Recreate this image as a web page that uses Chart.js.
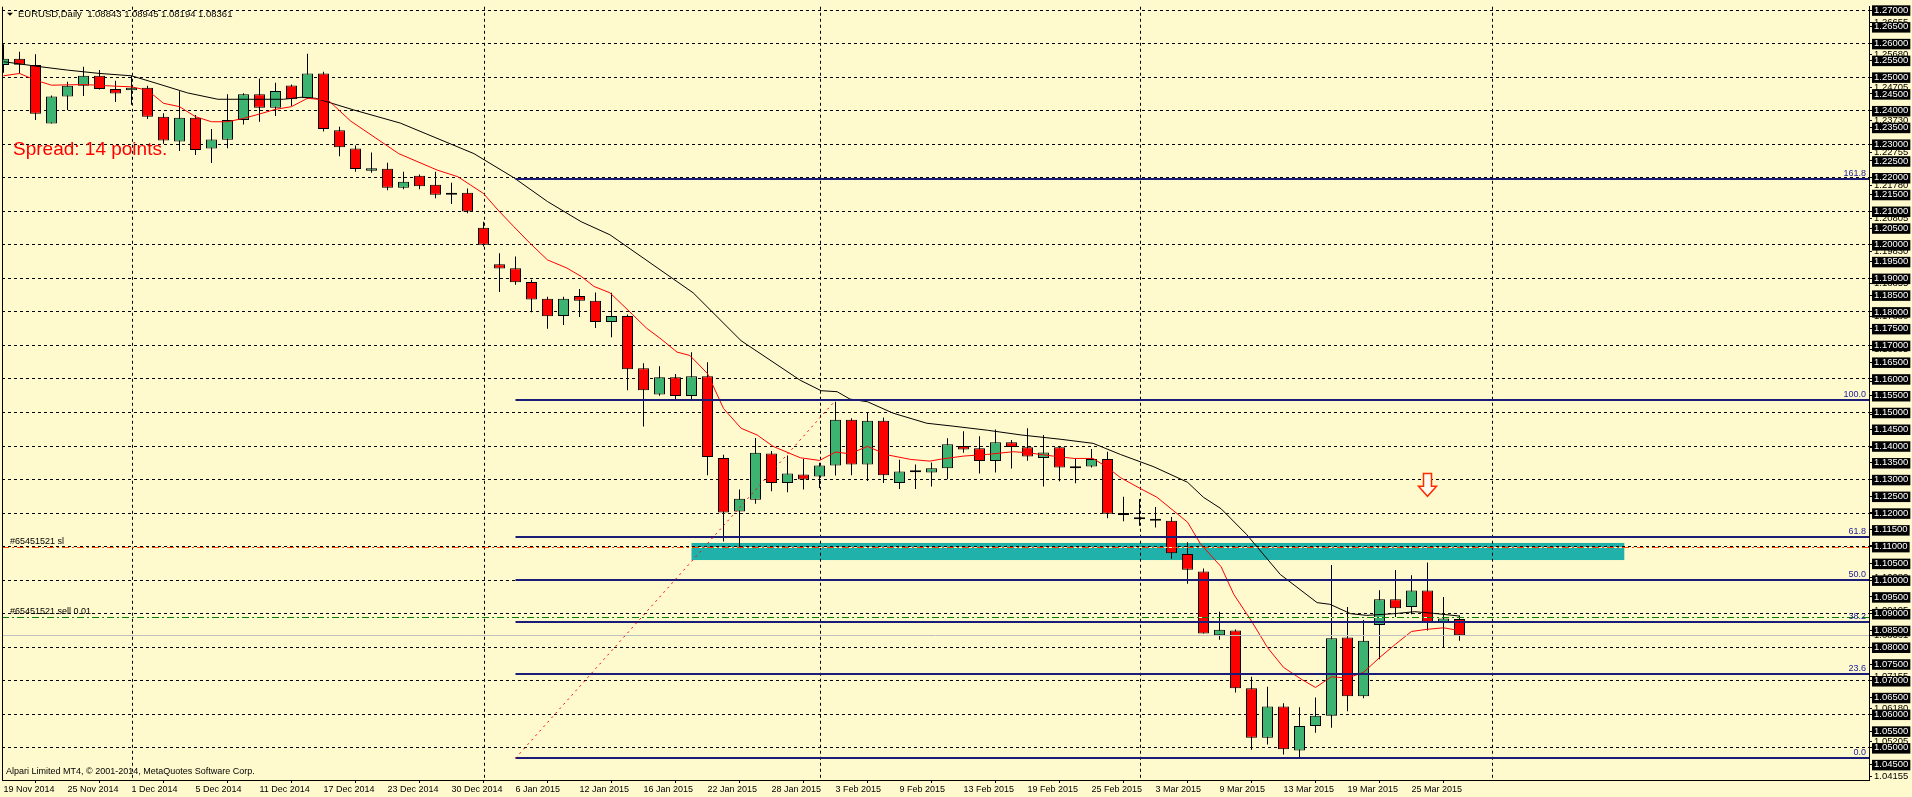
<!DOCTYPE html>
<html>
<head>
<meta charset="utf-8">
<title>EURUSD,Daily</title>
<script src="https://cdn.jsdelivr.net/npm/chart.js@4.4.1/dist/chart.umd.min.js"></script>
<style>
  html, body { margin: 0; padding: 0; background: #fffacd; overflow: hidden; }
</style>
</head>
<body>
<canvas id="chart" width="1912" height="797"></canvas>
<script>
// --- bar dates (one per daily candle) ---
const dates = ['19 Nov 2014','20 Nov 2014','21 Nov 2014','24 Nov 2014','25 Nov 2014','26 Nov 2014','27 Nov 2014','28 Nov 2014',
  '1 Dec 2014','2 Dec 2014','3 Dec 2014','4 Dec 2014','5 Dec 2014','8 Dec 2014','9 Dec 2014','10 Dec 2014','11 Dec 2014','12 Dec 2014',
  '15 Dec 2014','16 Dec 2014','17 Dec 2014','18 Dec 2014','19 Dec 2014','22 Dec 2014','23 Dec 2014','24 Dec 2014','26 Dec 2014',
  '29 Dec 2014','30 Dec 2014','31 Dec 2014','2 Jan 2015','5 Jan 2015','6 Jan 2015','7 Jan 2015','8 Jan 2015','9 Jan 2015',
  '12 Jan 2015','13 Jan 2015','14 Jan 2015','15 Jan 2015','16 Jan 2015','19 Jan 2015','20 Jan 2015','21 Jan 2015','22 Jan 2015',
  '23 Jan 2015','26 Jan 2015','27 Jan 2015','28 Jan 2015','29 Jan 2015','30 Jan 2015','2 Feb 2015','3 Feb 2015','4 Feb 2015',
  '5 Feb 2015','6 Feb 2015','9 Feb 2015','10 Feb 2015','11 Feb 2015','12 Feb 2015','13 Feb 2015','16 Feb 2015','17 Feb 2015',
  '18 Feb 2015','19 Feb 2015','20 Feb 2015','23 Feb 2015','24 Feb 2015','25 Feb 2015','26 Feb 2015','27 Feb 2015','2 Mar 2015',
  '3 Mar 2015','4 Mar 2015','5 Mar 2015','6 Mar 2015','9 Mar 2015','10 Mar 2015','11 Mar 2015','12 Mar 2015','13 Mar 2015',
  '16 Mar 2015','17 Mar 2015','18 Mar 2015','19 Mar 2015','20 Mar 2015','23 Mar 2015','24 Mar 2015','25 Mar 2015','26 Mar 2015',
  '27 Mar 2015','30 Mar 2015'];

// --- OHLC ---
const opens = [1.2536,1.2555,1.2536,1.2362,1.2442,1.2474,1.2504,1.2465,1.2461,1.2468,1.2382,1.2308,1.2379,1.2287,1.2313,1.2372,1.2449,1.2409,
  1.2475,1.2437,1.2511,1.2342,1.2287,1.2221,1.2227,1.2170,1.2206,1.2179,1.2149,1.2155,1.2051,1.1942,1.1930,1.1889,1.1839,1.1788,
  1.1847,1.1833,1.1770,1.1788,1.1632,1.1554,1.1605,1.1549,1.1608,1.1364,1.1205,1.1240,1.1378,1.1290,1.1315,1.1309,1.1342,1.1478,
  1.1345,1.1475,1.1290,1.1325,1.1321,1.1334,1.1400,1.1393,1.1355,1.1411,1.1396,1.1364,1.1396,1.1334,1.1339,1.1361,1.1199,1.1187,
  1.1183,1.1177,1.1078,1.1026,1.0836,1.0850,1.0678,1.0530,1.0623,1.0492,1.0565,1.0596,1.0829,1.0654,1.0866,1.0943,1.0920,1.0969,
  1.0873,1.08843];
const highs = [1.2598,1.2576,1.2568,1.2445,1.2486,1.2531,1.2521,1.2489,1.2505,1.2474,1.2392,1.2458,1.2387,1.2345,1.2449,1.2452,1.2496,1.2483,
  1.2478,1.2570,1.2516,1.2352,1.2296,1.2275,1.2245,1.2218,1.2210,1.2218,1.2185,1.2168,1.2069,1.1975,1.1965,1.1896,1.1845,1.1845,
  1.1868,1.1858,1.1857,1.1792,1.1647,1.1638,1.1615,1.1680,1.1650,1.1374,1.1270,1.1424,1.1385,1.1372,1.1361,1.1350,1.1532,1.1483,
  1.1500,1.1485,1.1359,1.1345,1.1351,1.1423,1.1444,1.1429,1.1449,1.1418,1.1453,1.1433,1.1396,1.1363,1.1391,1.1383,1.1249,1.1242,
  1.1218,1.1188,1.1113,1.1035,1.0906,1.0853,1.0712,1.0682,1.0633,1.0621,1.0650,1.1045,1.0920,1.0881,1.0970,1.1030,1.1015,1.1053,
  1.0950,1.08945];
const lows = [1.2513,1.2511,1.2372,1.2362,1.2402,1.2444,1.2463,1.2426,1.2418,1.2375,1.2301,1.2280,1.2268,1.2244,1.2288,1.2359,1.2367,1.2384,
  1.2414,1.2435,1.2338,1.2264,1.2218,1.2215,1.2163,1.2166,1.2166,1.2139,1.2122,1.2094,1.1995,1.1859,1.1881,1.1799,1.1750,1.1761,
  1.1785,1.1752,1.1724,1.1566,1.1458,1.1550,1.1537,1.1537,1.1313,1.1115,1.1098,1.1228,1.1265,1.1262,1.1270,1.1275,1.1312,1.1313,
  1.1296,1.1290,1.1272,1.1272,1.1279,1.1301,1.1380,1.1318,1.1321,1.1333,1.1356,1.1279,1.1295,1.1289,1.1336,1.1185,1.1176,1.1162,
  1.1157,1.1064,1.0989,1.0841,1.0822,1.0665,1.0494,1.0510,1.0480,1.0469,1.0545,1.0560,1.0609,1.0648,1.0764,1.0888,1.0898,1.0850,
  1.0799,1.08194];
const closes = [1.2555,1.2537,1.2391,1.2442,1.2474,1.2504,1.2465,1.2451,1.2468,1.2382,1.2311,1.2379,1.2283,1.2314,1.2372,1.2449,1.2409,1.2459,
  1.2434,1.2511,1.2345,1.2291,1.2226,1.2228,1.2170,1.2188,1.2175,1.2149,1.2155,1.2099,1.2000,1.1929,1.1888,1.1837,1.1787,1.1839,
  1.1833,1.1770,1.1788,1.1629,1.1566,1.1605,1.1549,1.1608,1.1367,1.1202,1.1243,1.1380,1.1290,1.1318,1.1300,1.1342,1.1478,1.1345,
  1.1475,1.1313,1.1324,1.1322,1.1334,1.1405,1.1390,1.1355,1.1411,1.1397,1.1369,1.1381,1.1336,1.1340,1.1361,1.1198,1.1194,1.1182,
  1.1177,1.1080,1.1031,1.0841,1.0852,1.0678,1.0530,1.0623,1.0496,1.0565,1.0596,1.0827,1.0654,1.0819,1.0943,1.0916,1.0969,1.0873,
  1.0886,1.08361];

// --- moving averages, sampled off the chart (bar position, price) ---
const fastMaBars = [0,1,2,3,5,7,8,9,10,11,12,13,14,15,16,17,18,19,20.3,21.7,24.7,27.1,28.4,29.2,30,30.9,31.9,32.9,34,35.2,36.1,36.9,37.9,
  39.3,40.2,41.1,42.1,42.9,44,45,46.1,47.1,48.1,49.8,51,52,52.9,54,55.2,56.7,57.9,58.6,60,61.5,63.1,64,65.6,66.9,68.1,69,69.8,71.1,
  72.1,73.1,74,74.8,76.1,76.9,78,79,80,81.1,82,83,84,85,86,87,88,88.9,90,90.6,91];
const fastMaValues = [1.2504,1.2511,1.2491,1.2476,1.2478,1.2473,1.2471,1.2461,1.2422,1.2412,1.2382,1.2367,1.2367,1.2377,1.2390,1.2404,1.2412,
  1.2437,1.2431,1.2369,1.2272,1.2223,1.2203,1.2178,1.2153,1.2104,1.2054,1.2005,1.1955,1.1931,1.1906,1.1876,1.1857,1.1793,1.1751,
  1.1719,1.1680,1.1670,1.1616,1.1512,1.1453,1.1433,1.1399,1.1365,1.1357,1.1382,1.1377,1.1399,1.1374,1.1360,1.1355,1.1361,1.1370,
  1.1375,1.1383,1.1380,1.1370,1.1363,1.1363,1.1336,1.1306,1.1272,1.1247,1.1208,1.1173,1.1109,1.1040,1.0957,1.0878,1.0799,1.0740,
  1.0705,1.0680,1.0712,1.0708,1.0725,1.0769,1.0809,1.0847,1.0853,1.0858,1.0853,1.0849];
const slowMaBars = [0,2.3,4,6,8,9.6,11.5,13.4,15.4,17.5,18.6,19.5,21.9,24.8,29.4,31.9,34,36.1,37.9,43.1,46.1,49.8,51.1,52.1,52.9,54,55.6,
  57.7,59.4,61.5,63.6,66.1,68.1,69.8,71.9,74,75,76.1,77.7,79.8,82.1,82.9,84.2,85.2,86.9,88.2,89.4,91];
const slowMaValues = [1.2546,1.2531,1.2521,1.2511,1.2504,1.2481,1.2453,1.2434,1.2434,1.2434,1.2440,1.2437,1.2402,1.2363,1.2272,1.2200,1.2129,
  1.2069,1.2030,1.1857,1.1714,1.1596,1.1565,1.1562,1.1540,1.1532,1.1498,1.1468,1.1459,1.1447,1.1433,1.1420,1.1408,1.1375,1.1338,
  1.1292,1.1247,1.1213,1.1136,1.1017,1.0933,1.0928,1.0900,1.0895,1.0900,1.0906,1.0901,1.0893];

// --- axes ---
const labelBars = [0,4,8,12,16,20,24,28,32,36,40,44,48,52,56,60,64,68,72,76,80,84,88];
const monthStartBars = [8, 30, 51, 71, 93];
const priceTicks = [1.045,1.050,1.055,1.060,1.065,1.070,1.075,1.080,1.085,1.090,1.095,1.100,1.105,1.110,1.115,1.120,1.125,1.130,
  1.135,1.140,1.145,1.150,1.155,1.160,1.165,1.170,1.175,1.180,1.185,1.190,1.195,1.200,1.205,1.210,1.215,1.220,1.225,1.230,1.235,
  1.240,1.245,1.250,1.255,1.260,1.265,1.270];
const scaleLabels = [1.26655,1.25680,1.24705,1.23730,1.22755,1.21780,1.20805,1.19830,1.18855,1.17880,1.16905,1.15930,1.14955,
  1.13980,1.13005,1.12030,1.11055,1.10080,1.09105,1.08361,1.07155,1.06180,1.05205,1.04155];

// --- objects drawn on the chart ---
const fibLevels = [1.2195, 1.1536, 1.1129, 1.1001, 1.0875, 1.0720, 1.0469];
const fibLabels = ['161.8', '100.0', '61.8', '50.0', '38.2', '23.6', '0.0'];
const fibStartBar = 32;
const fibTrendBars = [32, 52];
const fibTrendPrices = [1.0469, 1.1536];
const zoneBars = [43, 101.3];
const zonePrices = [1.1111, 1.1060];
const slPrice = 1.1098;
const sellPrice = 1.0891;
const bidPrice = 1.08361;
const arrowBar = 89;
const arrowPrices = [1.1318, 1.1280, 1.1250]; // top, head base, tip

const BG = '#fffacd';
const UP = '#3cb371';
const DOWN = '#ff0000';
const NAVY = '#1b1b78';
const FONT = 'Liberation Sans, Arial, sans-serif';

Chart.defaults.font.family = FONT;

const bodies = dates.map((d, i) => ({ x: i, y: [opens[i], closes[i]] }));
const wicks = dates.map((d, i) => ({ x: i, y: [lows[i], highs[i]] }));
const bodyColors = opens.map((o, i) => closes[i] >= o ? UP : DOWN);
const fastMa = fastMaBars.map((b, i) => ({ x: b, y: fastMaValues[i] }));
const slowMa = slowMaBars.map((b, i) => ({ x: b, y: slowMaValues[i] }));

// 16 px per bar, bar 0 centred 1.5 px right of the plot's left edge
const xMin = -1.5 / 16;
const xMax = xMin + 1867 / 16;

function dashLine(ctx, x1, y, x2, color, dash) {
    ctx.save();
    ctx.lineWidth = 1;
    ctx.strokeStyle = BG;
    ctx.beginPath(); ctx.moveTo(x1, y); ctx.lineTo(x2, y); ctx.stroke();
    ctx.strokeStyle = color;
    ctx.setLineDash(dash);
    ctx.beginPath(); ctx.moveTo(x1, y); ctx.lineTo(x2, y); ctx.stroke();
    ctx.restore();
}

const terminalPlugin = {
    id: 'terminal',
    beforeDraw(chart) {
        const { ctx, chartArea: a } = chart;
        const px = v => chart.scales.x.getPixelForValue(v);
        const py = v => chart.scales.y.getPixelForValue(v);
        ctx.save();
        ctx.fillStyle = BG;
        ctx.fillRect(0, 0, chart.width, chart.height);

        // shaded zone sits behind grid and candles
        ctx.save();
        ctx.beginPath(); ctx.rect(a.left, a.top, a.right - a.left, a.bottom - a.top); ctx.clip();
        ctx.fillStyle = '#20b2aa';
        const zy = py(zonePrices[0]);
        ctx.fillRect(px(zoneBars[0]), zy, px(zoneBars[1]) - px(zoneBars[0]), py(zonePrices[1]) - zy);
        ctx.restore();

        // terminal's own price scale labels, mostly hidden behind the boxed ones
        ctx.fillStyle = '#000';
        ctx.font = '9.5px ' + FONT;
        ctx.textBaseline = 'middle';
        ctx.textAlign = 'left';
        scaleLabels.forEach(v => {
            const y = Math.round(py(v));
            ctx.fillText(v.toFixed(5), a.right + 5, y);
            ctx.fillRect(a.right, y, 3, 1);
        });
        ctx.restore();
    },
    beforeDatasetsDraw(chart) {
        const { ctx, chartArea: a } = chart;
        const px = v => chart.scales.x.getPixelForValue(v);
        ctx.save();
        ctx.strokeStyle = '#000';
        ctx.lineWidth = 1;
        ctx.setLineDash([3, 3]);
        monthStartBars.forEach(b => {
            const x = Math.round(px(b)) + 0.5;
            if (x > a.right) return;
            ctx.beginPath(); ctx.moveTo(x, a.top); ctx.lineTo(x, a.bottom); ctx.stroke();
        });
        ctx.restore();
    },
    afterDatasetsDraw(chart) {
        const { ctx, chartArea: a } = chart;
        const px = v => chart.scales.x.getPixelForValue(v);
        const py = v => chart.scales.y.getPixelForValue(v);
        ctx.save();
        ctx.beginPath(); ctx.rect(a.left, a.top, a.right - a.left, a.bottom - a.top); ctx.clip();

        // trade lines
        dashLine(ctx, a.left, Math.round(py(slPrice)) + 0.5, a.right, '#ff4500', [7, 3, 2, 3]);
        dashLine(ctx, a.left, Math.round(py(sellPrice)) + 0.5, a.right, '#008000', [7, 3, 2, 3]);
        ctx.strokeStyle = '#c0c0c0';
        ctx.lineWidth = 1;
        ctx.beginPath();
        ctx.moveTo(a.left, Math.round(py(bidPrice)) + 0.5);
        ctx.lineTo(a.right, Math.round(py(bidPrice)) + 0.5);
        ctx.stroke();

        // Fibonacci levels
        ctx.strokeStyle = NAVY;
        ctx.lineWidth = 2;
        fibLevels.forEach(v => {
            const y = Math.round(py(v));
            ctx.beginPath(); ctx.moveTo(px(fibStartBar), y); ctx.lineTo(a.right, y); ctx.stroke();
        });
        ctx.fillStyle = '#22229a';
        ctx.font = '9px ' + FONT;
        ctx.textAlign = 'right';
        ctx.textBaseline = 'alphabetic';
        fibLevels.forEach((v, i) => ctx.fillText(fibLabels[i], a.right - 3, Math.round(py(v)) - 3));

        // Fibonacci trend line (dotted)
        ctx.strokeStyle = '#ff0000';
        ctx.lineWidth = 1;
        ctx.setLineDash([2, 4]);
        ctx.beginPath();
        ctx.moveTo(px(fibTrendBars[0]), py(fibTrendPrices[0]));
        ctx.lineTo(px(fibTrendBars[1]), py(fibTrendPrices[1]));
        ctx.stroke();
        ctx.setLineDash([]);

        // sell arrow
        const ax = px(arrowBar);
        const yTop = py(arrowPrices[0]), yBase = py(arrowPrices[1]), yTip = py(arrowPrices[2]);
        ctx.beginPath();
        ctx.moveTo(ax - 4, yTop); ctx.lineTo(ax + 4, yTop); ctx.lineTo(ax + 4, yBase);
        ctx.lineTo(ax + 9, yBase); ctx.lineTo(ax, yTip); ctx.lineTo(ax - 9, yBase);
        ctx.lineTo(ax - 4, yBase); ctx.closePath();
        ctx.fillStyle = '#fffdf0';
        ctx.fill();
        ctx.strokeStyle = '#ff2a00';
        ctx.lineWidth = 1.5;
        ctx.stroke();

        // order labels
        ctx.fillStyle = '#000';
        ctx.font = '9px ' + FONT;
        ctx.textAlign = 'left';
        ctx.fillText('#65451521 sl', a.left + 8, Math.round(py(slPrice)) - 3);
        ctx.fillText('#65451521 sell 0.01', a.left + 8, Math.round(py(sellPrice)) - 3);

        ctx.fillStyle = '#ff0000';
        ctx.font = '19px ' + FONT;
        ctx.fillText('Spread: 14 points.', a.left + 11, a.top + 148);

        ctx.fillStyle = '#000';
        ctx.font = '9px ' + FONT;
        ctx.fillText('Alpari Limited MT4, \u00a9 2001-2014, MetaQuotes Software Corp.', a.left + 4, a.bottom - 6);
        ctx.restore();
    },
    afterDraw(chart) {
        const { ctx, chartArea: a } = chart;
        ctx.save();
        // left frame
        ctx.fillStyle = '#000';
        ctx.fillRect(a.left, a.top, 1, a.bottom - a.top);
        // header
        ctx.beginPath();
        ctx.moveTo(a.left + 5, a.top + 6); ctx.lineTo(a.left + 11, a.top + 6); ctx.lineTo(a.left + 8, a.top + 9);
        ctx.closePath(); ctx.fill();
        ctx.font = '9.5px ' + FONT;
        ctx.textBaseline = 'middle';
        ctx.fillText('EURUSD,Daily  ' + [opens[91], highs[91], lows[91], closes[91]].map(v => v.toFixed(5)).join(' '), a.left + 16, a.top + 8);
        ctx.restore();
    }
};

const ctx = document.getElementById('chart').getContext('2d');
new Chart(ctx, {
    type: 'bar',
    data: {
        datasets: [
            { type: 'line', data: fastMa, borderColor: '#ff0000', borderWidth: 1, pointRadius: 0, tension: 0 },
            { type: 'line', data: slowMa, borderColor: '#000000', borderWidth: 1, pointRadius: 0, tension: 0 },
            { data: bodies, backgroundColor: bodyColors, borderColor: '#000', borderWidth: 1, borderSkipped: false,
              barThickness: 11, grouped: false, minBarLength: 2, inflateAmount: 0 },
            { data: wicks, backgroundColor: '#000', borderWidth: 0, barThickness: 1, grouped: false, inflateAmount: 0 }
        ]
    },
    options: {
        responsive: false,
        animation: false,
        events: [],
        layout: { padding: { left: 2, top: 3, right: 0, bottom: 0 } },
        plugins: { legend: { display: false }, tooltip: { enabled: false } },
        scales: {
            x: {
                type: 'linear', min: xMin, max: xMax, offset: false,
                afterFit: s => { s.height = 17; },
                afterBuildTicks: s => { s.ticks = labelBars.map(v => ({ value: v })); },
                ticks: { callback: v => dates[v], align: 'start', maxRotation: 0, autoSkip: false,
                         color: '#000', font: { size: 9 }, padding: 1 },
                grid: { drawOnChartArea: false, drawTicks: true, tickLength: 3, tickColor: '#000' },
                border: { display: true, color: '#000', width: 1 }
            },
            y: {
                position: 'right', min: 1.04041, max: 1.27099,
                afterFit: s => { s.width = 43; },
                afterBuildTicks: s => { s.ticks = priceTicks.map(v => ({ value: v })); },
                ticks: { callback: v => v.toFixed(5), autoSkip: false, color: '#ffffff',
                         font: { size: 9.5, lineHeight: 1 }, padding: 2, crossAlign: 'near',
                         showLabelBackdrop: true, backdropColor: '#000000',
                         backdropPadding: { top: 0, bottom: 1, left: 2, right: 2 } },
                grid: {
                    color: c => (Math.round(c.tick.value * 1000) % 10 === 0) ? '#000' : 'rgba(0,0,0,0)',
                    lineWidth: 1, drawTicks: true, tickLength: 3, tickColor: '#000'
                },
                border: { display: true, color: '#000', width: 1, dash: [3, 3] }
            }
        }
    },
    plugins: [terminalPlugin]
});
</script>
</body>
</html>
